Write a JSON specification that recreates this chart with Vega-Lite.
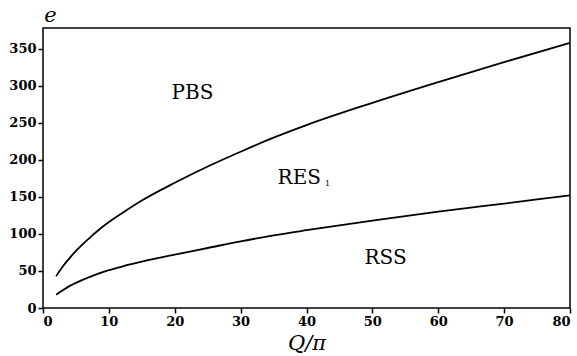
{
  "$schema": "https://vega.github.io/schema/vega-lite/v6.json",
  "width": 527,
  "height": 280,
  "autosize": {"type": "none"},
  "padding": {"left": 43, "top": 28, "right": 7, "bottom": 48},
  "background": "white",
  "config": {
    "view": {"stroke": "black", "strokeWidth": 1.5},
    "axis": {
      "grid": false,
      "domain": false,
      "tickColor": "black",
      "tickSize": 5,
      "tickWidth": 1.5,
      "labelFont": "DejaVu Serif",
      "labelFontSize": 13,
      "labelFontWeight": "bold",
      "labelColor": "black",
      "labelOverlap": false,
      "titleFont": "DejaVu Serif",
      "titleFontStyle": "italic",
      "titleColor": "black",
      "titleFontWeight": "normal"
    }
  },
  "datasets": {
    "curves": [
      {"Q": 2, "e": 43, "c": "upper"}, {"Q": 3, "e": 56, "c": "upper"}, {"Q": 4, "e": 67, "c": "upper"},
      {"Q": 5, "e": 77, "c": "upper"}, {"Q": 6, "e": 86, "c": "upper"}, {"Q": 7, "e": 94, "c": "upper"},
      {"Q": 8, "e": 102, "c": "upper"}, {"Q": 10, "e": 116, "c": "upper"}, {"Q": 12, "e": 128, "c": "upper"},
      {"Q": 15, "e": 145, "c": "upper"}, {"Q": 20, "e": 169, "c": "upper"}, {"Q": 25, "e": 191, "c": "upper"},
      {"Q": 30, "e": 211, "c": "upper"}, {"Q": 35, "e": 230, "c": "upper"}, {"Q": 40, "e": 247, "c": "upper"},
      {"Q": 50, "e": 277, "c": "upper"}, {"Q": 60, "e": 305, "c": "upper"}, {"Q": 70, "e": 332, "c": "upper"},
      {"Q": 80, "e": 358, "c": "upper"},
      {"Q": 2, "e": 18, "c": "lower"}, {"Q": 3, "e": 24, "c": "lower"}, {"Q": 4, "e": 29.5, "c": "lower"},
      {"Q": 5, "e": 34, "c": "lower"}, {"Q": 6, "e": 38, "c": "lower"}, {"Q": 7, "e": 41.5, "c": "lower"},
      {"Q": 8, "e": 45, "c": "lower"}, {"Q": 10, "e": 51, "c": "lower"}, {"Q": 12, "e": 56, "c": "lower"},
      {"Q": 15, "e": 62.5, "c": "lower"}, {"Q": 20, "e": 72, "c": "lower"}, {"Q": 25, "e": 81, "c": "lower"},
      {"Q": 30, "e": 90, "c": "lower"}, {"Q": 35, "e": 98, "c": "lower"}, {"Q": 40, "e": 105, "c": "lower"},
      {"Q": 50, "e": 118, "c": "lower"}, {"Q": 60, "e": 130, "c": "lower"}, {"Q": 70, "e": 141, "c": "lower"},
      {"Q": 80, "e": 152, "c": "lower"}
    ],
    "labels": [
      {"Q": 22.7, "e": 290, "t": "PBS"},
      {"Q": 38.9, "e": 176, "t": "RES"},
      {"Q": 52, "e": 67, "t": "RSS"}
    ],
    "sub": [
      {"Q": 42.8, "e": 168, "t": "1"}
    ]
  },
  "encoding": {
    "x": {"field": "Q", "type": "quantitative",
          "scale": {"domain": [0, 80], "nice": false},
          "axis": {"values": [0,10,20,30,40,50,60,70,80], "title": "Q/π", "titleFontSize": 21, "titlePadding": 4, "labelPadding": 2}},
    "y": {"field": "e", "type": "quantitative",
          "scale": {"domain": [0, 378], "nice": false},
          "axis": {"values": [0,50,100,150,200,250,300,350], "title": "e", "titleAngle": 0, "titleFontSize": 21,
                   "titleAlign": "center", "titleBaseline": "alphabetic", "titleX": 7, "titleY": -7, "labelPadding": 2}}
  },
  "layer": [
    {
      "data": {"name": "curves"},
      "mark": {"type": "line", "color": "black", "strokeWidth": 1.8, "interpolate": "monotone"},
      "encoding": {
        "detail": {"field": "c"}
      }
    },
    {
      "data": {"name": "labels"},
      "mark": {"type": "text", "font": "DejaVu Serif", "fontSize": 20, "color": "black", "align": "center", "baseline": "middle"},
      "encoding": {
        "text": {"field": "t"}
      }
    },
    {
      "data": {"name": "sub"},
      "mark": {"type": "text", "font": "DejaVu Serif", "fontSize": 8, "color": "black", "align": "left", "baseline": "middle"},
      "encoding": {
        "text": {"field": "t"}
      }
    }
  ]
}
